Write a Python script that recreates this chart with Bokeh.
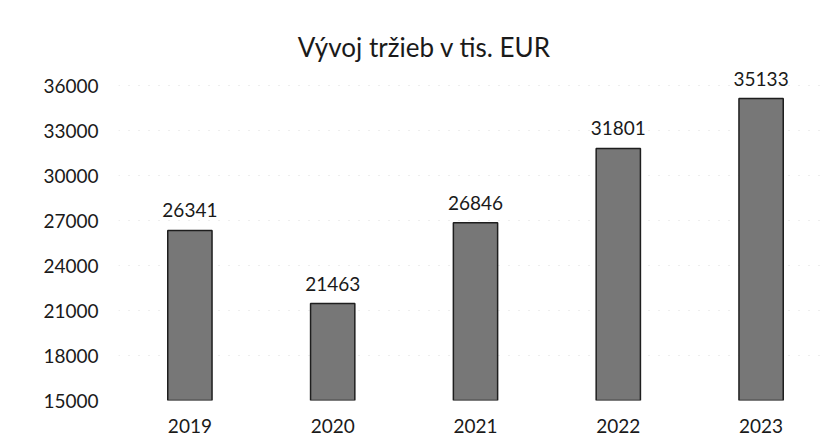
from bokeh.plotting import figure
from bokeh.models import Range1d, FixedTicker, ColumnDataSource
from bokeh.core.properties import value
from bokeh.embed import file_html
from bokeh.resources import INLINE

years = ["2019", "2020", "2021", "2022", "2023"]
revenue = [26341, 21463, 26846, 31801, 35133]
y_ticks = [15000, 18000, 21000, 24000, 27000, 30000, 33000, 36000]
title_text = "Vývoj tržieb v tis. EUR"

FONT = "Lato"
xs = list(range(len(years)))
src = ColumnDataSource(dict(x=xs, top=revenue, label=[str(v) for v in revenue]))

p = figure(width=826, height=439, frame_width=708, frame_height=400,
           output_backend="svg", toolbar_location=None,
           x_range=Range1d(-0.5, 4.458), y_range=Range1d(15000, 41667),
           min_border_left=118, min_border_right=0, min_border_top=0, min_border_bottom=39)
p.outline_line_color = None
p.background_fill_color = "white"
p.border_fill_color = "white"

p.vbar(x="x", top="top", bottom=15000, width=0.31, source=src,
       fill_color="#777777", line_color="#1e1e1e", line_width=1.5)

p.text(x="x", y="top", text="label", source=src, text_align="center",
       text_baseline="middle", y_offset=-20, text_font=value(FONT),
       text_font_size="19px", text_color="#1a1a1a")

p.text(x=[1.643], y=[38600], text=[title_text], text_align="center",
       text_baseline="middle", text_font=value(FONT), text_font_size="26px",
       text_color="#1a1a1a")

p.yaxis.ticker = FixedTicker(ticks=y_ticks)
p.yaxis.axis_line_color = None
p.yaxis.major_tick_line_color = None
p.yaxis.minor_tick_line_color = None
p.yaxis.major_label_standoff = 14
p.yaxis.major_label_text_font = FONT
p.yaxis.major_label_text_font_size = "19px"
p.yaxis.major_label_text_color = "#1a1a1a"

p.xaxis.ticker = FixedTicker(ticks=xs)
p.xaxis.major_label_overrides = {i: y for i, y in zip(xs, years)}
p.xaxis.axis_line_color = None
p.xaxis.major_tick_line_color = None
p.xaxis.minor_tick_line_color = None
p.xaxis.major_label_standoff = 12
p.xaxis.major_label_text_font = FONT
p.xaxis.major_label_text_font_size = "19px"
p.xaxis.major_label_text_color = "#1a1a1a"

p.xgrid.grid_line_color = None
p.ygrid.grid_line_color = "#dddddd"
p.ygrid.grid_line_dash = "1 9"
p.ygrid.grid_line_width = 1

open("out.html", "w").write(file_html(p, INLINE))
